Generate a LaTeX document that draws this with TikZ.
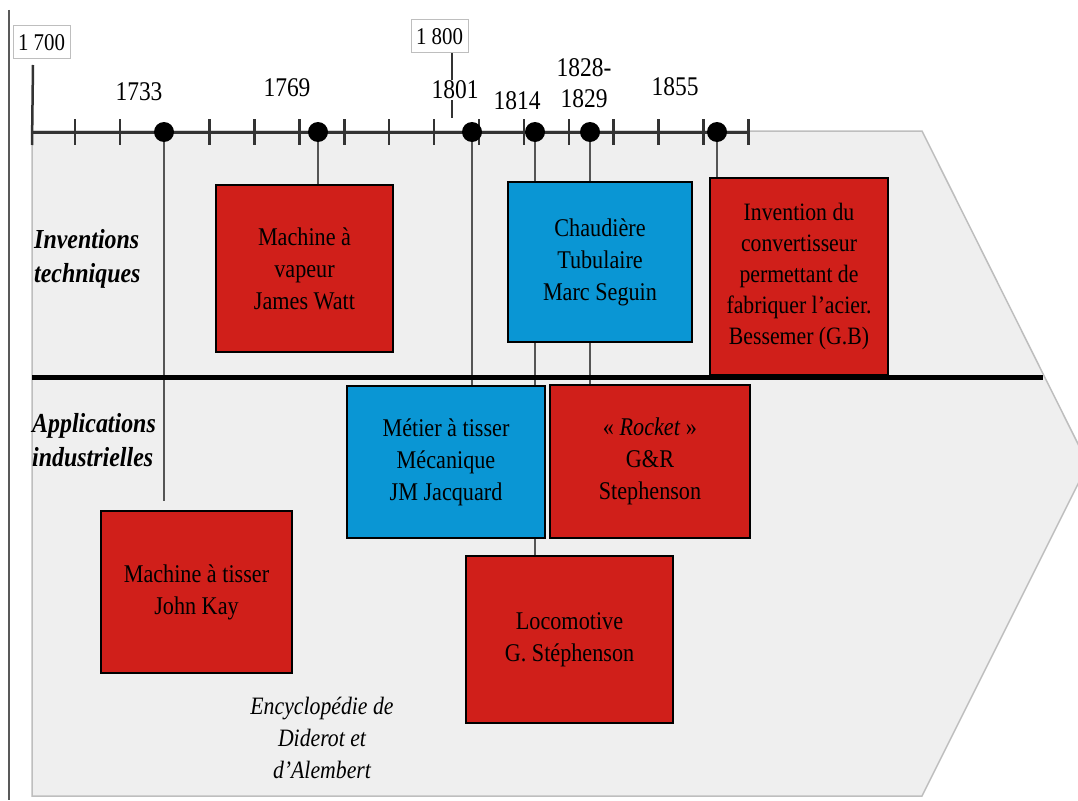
\documentclass[tikz,border=0pt]{standalone}
\usepackage{fontspec}
\setmainfont{Liberation Serif}[FakeStretch=0.87]
\definecolor{boxred}{RGB}{208,31,26}
\definecolor{boxblue}{RGB}{10,150,212}
\definecolor{bggray}{RGB}{239,239,239}
\definecolor{edgegray}{RGB}{190,190,190}
\definecolor{conngray}{RGB}{85,85,85}
\pgfdeclarelayer{bg}
\pgfsetlayers{bg,main}
\tikzset{
  box/.style={draw=black, line width=1.5pt, align=center, inner sep=0pt, font=\fontsize{25.5}{32}\selectfont},
  redbox/.style={box, fill=boxred},
  bluebox/.style={box, fill=boxblue},
  dotnode/.style={circle, fill=black, inner sep=0pt, minimum size=20pt},
  yearlbl/.style={font=\fontsize{27}{31}\selectfont, inner sep=0pt, align=center},
  yearbox/.style={draw=edgegray, fill=white, line width=1pt, inner sep=0pt, font=\fontsize{24}{28}\selectfont, minimum height=33pt},
  conn/.style={draw=conngray, line width=1.5pt},
  tickmark/.style={draw=black!80, line width=2.5pt},
  sidelbl/.style={font=\fontsize{27.5}{34}\selectfont\bfseries\itshape, align=left, inner sep=0pt, anchor=west},
}
\begin{document}
\begin{tikzpicture}[x=1pt,y=-1pt]
\useasboundingbox (0,0) rectangle (1078,800);
\clip (0,0) rectangle (1078,800);
% dots on the timeline
\node[dotnode] (d1733) at (164,132) {};
\node[dotnode] (d1769) at (318,132) {};
\node[dotnode] (d1801) at (472,132) {};
\node[dotnode] (d1814) at (535,132) {};
\node[dotnode] (d1829) at (590,132) {};
\node[dotnode] (d1855) at (717,132) {};
% boxes
\node[redbox, minimum width=177pt, minimum height=167pt] (watt) at (304.5,268.5) {Machine à\\vapeur\\James Watt};
\node[bluebox, minimum width=184pt, minimum height=160pt] (chaud) at (600,262) {Chaudière\\Tubulaire\\Marc Seguin};
\node[redbox, minimum width=178pt, minimum height=197pt, font=\fontsize{25}{31}\selectfont] (conv) at (799,276.5) {Invention du\\convertisseur\\permettant de\\fabriquer l'acier.\\Bessemer (G.B)};
\node[bluebox, minimum width=198pt, minimum height=152pt] (metier) at (446,462) {Métier à tisser\\Mécanique\\JM Jacquard};
\node[redbox, minimum width=200pt, minimum height=153pt] (rocket) at (650,461.5) {«~\textit{Rocket}~»\\G\&R\\Stephenson};
\node[redbox, minimum width=191pt, minimum height=162pt] (kay) at (196.5,592) {Machine à tisser\\John Kay};
\node[redbox, minimum width=207pt, minimum height=167pt] (loco) at (569.5,639.5) {Locomotive\\G. Stéphenson};
% separator
\draw[line width=5pt] (32,377) -- (1043,377);
% background layer
\begin{pgfonlayer}{bg}
\fill[white] (0,0) rectangle (1078,800);
\draw[fill=bggray, draw=edgegray, line width=1.5pt] (32,131) -- (922,131) -- (1088,464) -- (922,796) -- (32,796) -- cycle;
\draw[line width=2pt, draw=black!65] (9,10) -- (9,800);
% connectors
\draw[conn, shorten >=9pt] (d1733.center) -- (d1733.center |- kay.north);
\draw[conn] (d1769.center) -- (d1769.center |- watt.north);
\draw[conn] (d1801.center) -- (d1801.center |- metier.north);
\draw[conn] (d1814.center) -- (d1814.center |- chaud.north);
\draw[conn] (chaud.south -| d1814.center) -- (d1814.center |- loco.north);
\draw[conn] (d1829.center) -- (d1829.center |- chaud.north);
\draw[conn] (chaud.south -| d1829.center) -- (d1829.center |- rocket.north);
\draw[conn] (d1855.center) -- (d1855.center |- conv.north);
% timeline
\draw[line width=3pt, draw=black!80] (32,132) -- (750,132);
\foreach \k in {1,2,4,5,6,7,8,9,10,11,12,13,14,15,16}
  \draw[tickmark] ({30+44.9*\k},119) -- ({30+44.9*\k},145);
\draw[line width=2.5pt, draw=black!80] (33,65) -- (32,145);
\draw[line width=2pt, draw=black!80] (452,53) -- (452,118);
\end{pgfonlayer}
% year boxes and labels
\node[yearbox, minimum width=57pt] (y1700) at (41.5,42.5) {1 700};
\node[yearbox, minimum width=57pt] (y1800) at (439.5,36.5) {1 800};
\node[yearlbl] (l1733) at (139,92) {1733};
\node[yearlbl] (l1769) at (287,88) {1769};
\node[yearlbl, fill=white, inner sep=1pt] (l1801) at (455,90) {1801};
\node[yearlbl] (l1814) at (517,101) {1814};
\node[yearlbl] (l1829) at (584,83) {1828-\\1829};
\node[yearlbl] (l1855) at (675,87) {1855};
% side labels
\node[sidelbl] (inv) at (34,258.5) {Inventions\\techniques};
\node[sidelbl] (app) at (32,440) {Applications\\industrielles};
% encyclopedie
\node[font=\fontsize{25}{32}\selectfont\itshape, align=center, inner sep=0pt] (ency) at (322,738) {Encyclopédie de\\Diderot et\\d'Alembert};
\end{tikzpicture}
\end{document}
